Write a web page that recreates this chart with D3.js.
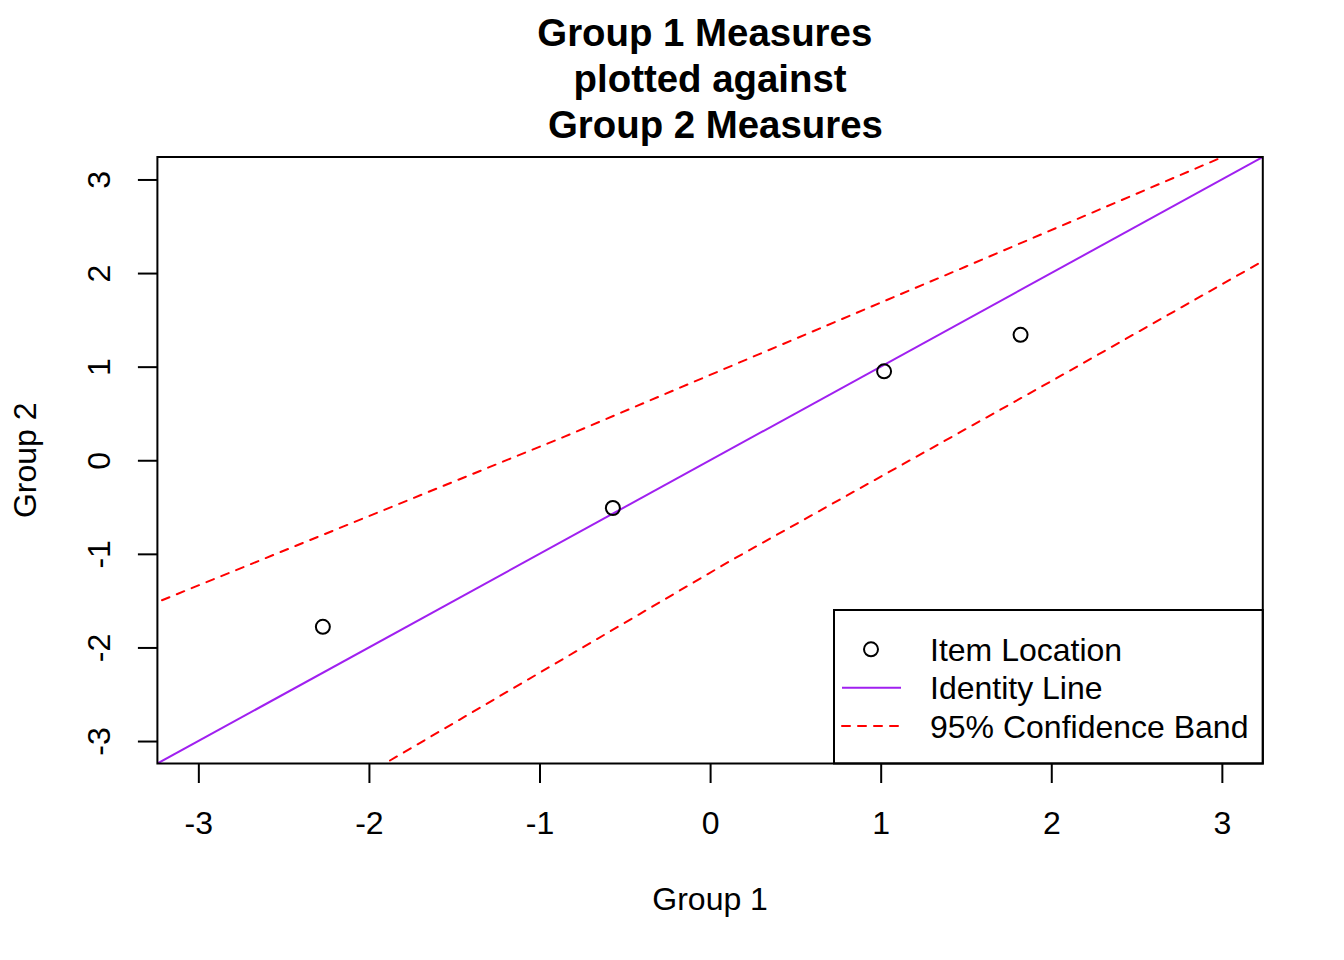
<!DOCTYPE html>
<html>
<head>
<meta charset="utf-8">
<script src="https://cdnjs.cloudflare.com/ajax/libs/d3/7.8.5/d3.min.js"></script>
<style>
  body { margin: 0; background: #fff; }
  text { font-family: "Liberation Sans", Arial, Helvetica, sans-serif; fill: #000; }
</style>
</head>
<body>
<script>
// item locations, one value per item and group
var group1 = [-2.27, -0.57, 1.02, 1.82];
var group2 = [-1.78, -0.51, 0.95, 1.34];

// 95% confidence band
var upperX = [-3.3, -0.85, 1.5, 3.3];
var upperY = [-1.56, 0.255, 2.07, 3.47];
var lowerX = [-2.2, 0.124, 2.01, 3.3];
var lowerY = [-3.554, -1.069, 0.855, 2.19];

var ticks = [-3, -2, -1, 0, 1, 2, 3];
var titleLines = ["Group 1 Measures ", " plotted against ", " Group 2 Measures"];
var legendLabels = ["Item Location", "Identity Line", "95% Confidence Band"];

var width = 1344, height = 960;
// plot region (note: "top" is reserved on window, so use other names)
var plotLeft = 157.4, plotRight = 1262.8, plotTop = 157, plotBottom = 763.5;

var svg = d3.select("body").append("svg")
    .attr("width", width)
    .attr("height", height);

svg.append("rect")
    .attr("width", width)
    .attr("height", height)
    .attr("fill", "#fff");

// same limits on both axes (xlim = c(-3, 3) plus 4%)
var x = d3.scaleLinear().domain([-3.24, 3.24]).range([plotLeft, plotRight]);
var y = d3.scaleLinear().domain([-3.24, 3.24]).range([plotBottom, plotTop]);

svg.append("clipPath")
    .attr("id", "plot-clip")
  .append("rect")
    .attr("x", plotLeft)
    .attr("y", plotTop)
    .attr("width", plotRight - plotLeft)
    .attr("height", plotBottom - plotTop);

var plot = svg.append("g").attr("clip-path", "url(#plot-clip)");

var line = d3.line()
    .x(function(d) { return x(d[0]); })
    .y(function(d) { return y(d[1]); });

// identity line
plot.append("path")
    .attr("d", line([[-3.24, -3.24], [3.24, 3.24]]))
    .attr("fill", "none")
    .attr("stroke", "#A020F0")
    .attr("stroke-width", 2);

// confidence band
var bands = [d3.zip(upperX, upperY), d3.zip(lowerX, lowerY)];
plot.selectAll(".band")
    .data(bands)
    .enter().append("path")
    .attr("class", "band")
    .attr("d", line)
    .attr("fill", "none")
    .attr("stroke", "#FF0000")
    .attr("stroke-width", 2)
    .attr("stroke-dasharray", "8,8")
    .attr("stroke-linecap", "round");

// item points
plot.selectAll("circle")
    .data(d3.zip(group1, group2))
    .enter().append("circle")
    .attr("cx", function(d) { return x(d[0]); })
    .attr("cy", function(d) { return y(d[1]); })
    .attr("r", 7)
    .attr("fill", "none")
    .attr("stroke", "#000")
    .attr("stroke-width", 2);

// axes
var xAxis = svg.append("g")
    .attr("transform", "translate(0," + plotBottom + ")")
    .call(d3.axisBottom(x).tickValues(ticks).tickSize(19.5).tickFormat(d3.format("d")));
var yAxis = svg.append("g")
    .attr("transform", "translate(" + plotLeft + ",0)")
    .call(d3.axisLeft(y).tickValues(ticks).tickSize(19.5).tickFormat(d3.format("d")));

[xAxis, yAxis].forEach(function(g) {
    g.select(".domain").remove();
    g.selectAll(".tick line").attr("stroke", "#000").attr("stroke-width", 2);
    g.selectAll(".tick text").attr("font-size", 32).attr("fill", "#000")
        .style("font-family", "'Liberation Sans', Arial, Helvetica, sans-serif");
});
// R style minus sign (plain hyphen)
svg.selectAll(".tick text").text(function(d) { return d < 0 ? "-" + Math.abs(d) : d; });

xAxis.selectAll(".tick text")
    .attr("y", 0)
    .attr("dy", null)
    .attr("transform", "translate(0," + (833.5 - plotBottom) + ")");

yAxis.selectAll(".tick text")
    .attr("x", 0)
    .attr("dy", null)
    .attr("text-anchor", "middle")
    .attr("transform", "translate(" + (110.5 - plotLeft) + ",0) rotate(-90)");

// box around plot
svg.append("rect")
    .attr("x", plotLeft)
    .attr("y", plotTop)
    .attr("width", plotRight - plotLeft)
    .attr("height", plotBottom - plotTop)
    .attr("fill", "none")
    .attr("stroke", "#000")
    .attr("stroke-width", 2);

// titles
svg.append("g").selectAll("text")
    .data(titleLines)
    .enter().append("text")
    .attr("x", (plotLeft + plotRight) / 2)
    .attr("y", function(d, i) { return 45.5 + i * 46.3; })
    .attr("text-anchor", "middle")
    .attr("font-size", 38.4)
    .attr("font-weight", "bold")
    .style("white-space", "pre")
    .text(function(d) { return d; });

svg.append("text")
    .attr("x", (plotLeft + plotRight) / 2)
    .attr("y", 909.5)
    .attr("text-anchor", "middle")
    .attr("font-size", 32)
    .text("Group 1");

svg.append("text")
    .attr("transform", "translate(35.5," + (plotTop + plotBottom) / 2 + ") rotate(-90)")
    .attr("text-anchor", "middle")
    .attr("font-size", 32)
    .text("Group 2");

// legend, bottom right
var legend = svg.append("g");
legend.append("rect")
    .attr("x", 834)
    .attr("y", 610)
    .attr("width", plotRight - 834)
    .attr("height", plotBottom - 610)
    .attr("fill", "none")
    .attr("stroke", "#000")
    .attr("stroke-width", 2);

var rowY = function(i) { return 649.3 + i * 38.4; };

legend.append("circle")
    .attr("cx", 871)
    .attr("cy", rowY(0))
    .attr("r", 7)
    .attr("fill", "none")
    .attr("stroke", "#000")
    .attr("stroke-width", 2);

legend.append("line")
    .attr("x1", 842).attr("x2", 901)
    .attr("y1", rowY(1)).attr("y2", rowY(1))
    .attr("stroke", "#A020F0")
    .attr("stroke-width", 2);

legend.append("line")
    .attr("x1", 842).attr("x2", 901)
    .attr("y1", rowY(2)).attr("y2", rowY(2))
    .attr("stroke", "#FF0000")
    .attr("stroke-width", 2)
    .attr("stroke-dasharray", "8,8")
    .attr("stroke-linecap", "round");

legend.selectAll("text")
    .data(legendLabels)
    .enter().append("text")
    .attr("x", 930)
    .attr("y", function(d, i) { return rowY(i) + 11.5; })
    .attr("font-size", 32)
    .text(function(d) { return d; });
</script>
</body>
</html>
